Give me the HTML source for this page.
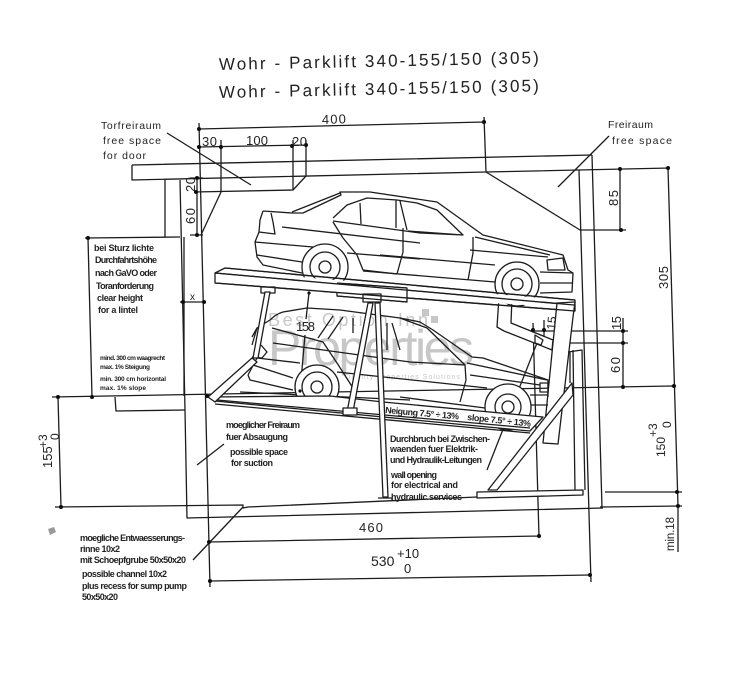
<!DOCTYPE html>
<html><head><meta charset="utf-8"><style>
html,body{margin:0;padding:0;background:#fff}
svg{display:block}
text{font-family:"Liberation Sans",sans-serif;fill:#222}
.d{stroke:#1c1c1c;stroke-width:1.3;fill:none;stroke-linejoin:round}
.f{fill:#fff}
.t{font-size:9px;font-weight:bold;fill:#222}
.n{font-size:13px;fill:#222}
.w{fill:#a9a9a9;opacity:.65}
</style></head><body>
<svg width="744" height="690" viewBox="0 0 744 690" xmlns="http://www.w3.org/2000/svg">
<filter id="b"><feGaussianBlur stdDeviation=".35"/></filter>
<rect width="744" height="690" fill="#fff"/>
<g filter="url(#b)">
<!-- titles -->
<text x="219" y="70" font-size="17" textLength="320" transform="rotate(-1.2 219 70)">Wohr - Parklift 340-155/150 (305)</text>
<text x="219" y="98" font-size="17" textLength="320" transform="rotate(-1.2 219 98)">Wohr - Parklift 340-155/150 (305)</text>

<!-- watermark -->
<text class="w" x="268" y="365" font-size="50" textLength="206">Properties</text>
<text class="w" x="268" y="326" font-size="18" textLength="160">Best Option Inn</text>
<text class="w" x="345" y="379" font-size="7" textLength="115">Quality Properties Solutions</text>
<rect class="w" x="422" y="309" width="7" height="7"/><rect class="w" x="431" y="316" width="7" height="7"/>

<g class="d">
<!-- walls -->
<path d="M132 165L592 155M132 165V180L486 172L670 168"/>
<path d="M165 180V237M180 180L185 410L187 518L603 508M85 238L180 237"/>
<path d="M88 238L92 397M184 237L184 396"/>
<path d="M52 397L673 386"/>
<path d="M115 397L116 411L185 410"/>
<path d="M199 123L210 587"/>
<path d="M579 170L591 582M592 155L602 508"/>
<path d="M486 172L580 230H626"/>
<path d="M199 129L484 122M484 117L486 172"/>
<path d="M199 147L306 145M221 140V192L201 235M293 140V190L306 176V140M194 192L293 190"/>
<path d="M190 178H203M197 178L197 235M190 235H203"/>
<path d="M180 302H206"/>
<path d="M620 169V230M668 168L678 506M678 506V552"/>
<path d="M623 318L623 387M533 331H628M535 343H628"/>
<path d="M605 492L682 492M600 507L682 506"/>
<path d="M58 397L61 507M55 507L243 505L243 508L248 507L477 497"/>
<path d="M209 542L539 536M533 323L539 537M544 320V337"/>
<path d="M210 581L590 575"/>
<!-- leaders -->
<path d="M167 133L251 185M609 136L558 187M197 465L224 444M193 560L243 507M487 470L537 343M309 293L306 319M305 335L300 392"/>

<!-- upper platform -->
<path class="f" d="M225 268L575 300L575 311L215 283V273Z"/>
<path d="M215 273L574 305"/>
<path class="f" d="M337 283L407 288V302L337 296Z"/>
<path class="f" d="M261 287H275V293H261ZM363 294H381V302H363Z"/>
<path class="f" d="M499 297H512L511 323L553 340L552 350L504 331L497 327Z"/>
<path d="M535 335L543 340L541 345L535 343Z"/>
<path class="f" d="M557 303L575 302L573 317L558 444L543 443Z"/>

<!-- lower car -->
<path d="M252 337L257 328L270 320Q276 314 283 312L307 308L340 310L400 318L420 322L433 330L472 357L483 358L548 380L548 397"/>
<path d="M257 328L252 345M261 345L267 352L262 358L252 357M248 375L250 380L293 390M248 375L257 358L300 363"/>
<path d="M272 328L323 342M273 343L410 362L465 365M253 365L293 378M323 342L337 363L353 388M337 372L487 388M470 375L540 385"/>
<path d="M318 338L333 316M328 339L343 317M353 318V333M387 323V350M392 323L400 350"/>
<path d="M427 328L465 365L466 380L460 402M467 363L547 380M400 318L427 328"/>
<path d="M400 397L485 408M240 392L410 400M540 383L548 383V392H540ZM530 395H548M530 405H548"/>
<circle cx="317" cy="387" r="22" class="f"/><circle cx="317" cy="387" r="15"/><circle cx="317" cy="387" r="6"/>
<circle cx="508" cy="407" r="23" class="f"/><circle cx="508" cy="407" r="13"/><circle cx="508" cy="407" r="6"/>

<!-- lower platform -->
<path class="f" d="M383 402L543 417L530 431L215 401L208 397L330 396Z"/>
<path d="M217 400L530 428M215 404L530 433"/>
<!-- posts -->
<path class="f" d="M265 292H270L258 358H253Z"/>
<path class="f" d="M368 303H373L353 412H347Z"/>
<path class="f" d="M375 303H380L388 497H383Z"/>
<path class="f" d="M343 408H357V415H343Z"/>
<path class="f" d="M208 397L252 358L257 362L215 402Z"/>
<path d="M378 498H392V500"/>
<!-- right frame -->
<path d="M568 352L582 350L585 490M573 350L575 490M570 352V383"/>
<path class="f" d="M572 383L573 395L497 490H488Z"/>
<path class="f" d="M477 492L583 490V495L477 498Z"/>

<!-- upper car -->
<path d="M263 211L292 213H303L341 195L340 192H370L437 202L483 235L563 255L568 270L573 273L572 292L540 293"/>
<path d="M292 212L340 193M263 211L260 220L259 232L275 234L273 222L271 213"/>
<path d="M259 232L255 242L257 257L263 265L302 273M255 242L313 247M257 255L302 262"/>
<path d="M333 218L347 205L367 198L397 200L417 203L437 210L463 235L408 231M333 221L420 233L463 235M360 203L361 224M396 200V228M400 201L407 230"/>
<path d="M282 227L420 243M333 222L343 238L357 255L363 270L397 274M347 253L420 259M403 228V252L397 274"/>
<path d="M475 237L550 255M473 237L473 253L468 280M380 255L495 265M470 250L548 257M363 271L495 282"/>
<path d="M547 260L548 270H565L563 258ZM540 272L573 273M540 283L572 283"/>
<circle cx="325" cy="267" r="23"/><circle cx="325" cy="267" r="15"/><circle cx="325" cy="267" r="6"/>
<circle cx="517" cy="284" r="22"/><circle cx="517" cy="284" r="15"/><circle cx="517" cy="284" r="6"/>
<path class="f" d="M300 277L348 281V292H300ZM494 294L541 298V306L494 303Z" stroke="none"/>
<path d="M225 268L575 300M215 283L575 311M215 273L574 305M337 283L407 288M337 296L407 302"/>
</g>
<!-- dots -->
<g fill="#111">
<circle cx="199" cy="129" r="2"/><circle cx="484" cy="122" r="2"/><circle cx="199" cy="147" r="2"/><circle cx="221" cy="147" r="2"/><circle cx="292" cy="146" r="2"/><circle cx="306" cy="145" r="2"/>
<circle cx="197" cy="178" r="2"/><circle cx="196" cy="192" r="2"/><circle cx="197" cy="235" r="2"/><circle cx="183" cy="302" r="2"/><circle cx="204" cy="302" r="2"/>
<circle cx="88" cy="238" r="2"/><circle cx="92" cy="397" r="2"/><circle cx="58" cy="397" r="2"/><circle cx="61" cy="507" r="2"/><circle cx="207" cy="396" r="2"/>
<circle cx="209" cy="542" r="2"/><circle cx="539" cy="536" r="2"/><circle cx="210" cy="581" r="2"/><circle cx="590" cy="575" r="2"/>
<circle cx="620" cy="169" r="2"/><circle cx="621" cy="230" r="2"/><circle cx="668" cy="168" r="2"/><circle cx="623" cy="331" r="2"/><circle cx="623" cy="343" r="2"/><circle cx="623" cy="387" r="2"/><circle cx="674" cy="386" r="2"/><circle cx="677" cy="492" r="2"/><circle cx="678" cy="506" r="2"/><circle cx="533" cy="330" r="2"/><circle cx="544" cy="330" r="2"/><circle cx="309" cy="293" r="1.6"/><circle cx="300" cy="391" r="1.6"/>
</g>

<!-- dim labels -->
<g class="n">
<text x="322" y="124" textLength="24" transform="rotate(-1.5 322 124)">400</text>
<text x="202" y="146" textLength="15">30</text>
<text x="246" y="145" textLength="22">100</text>
<text x="292" y="146" textLength="15">20</text>
<text transform="translate(195,192) rotate(-90)" textLength="15">20</text>
<text transform="translate(195,224) rotate(-90)" textLength="16">60</text>
<text x="190" y="300" font-size="10">x</text>
<text x="296" y="331" textLength="19">158</text>
<text transform="translate(618,206) rotate(-90)" textLength="16">85</text>
<text transform="translate(668,289) rotate(-90)" textLength="23">305</text>
<text transform="translate(621,330) rotate(-90)" textLength="14">15</text>
<text transform="translate(620,373) rotate(-90)" textLength="16">60</text>
<text transform="translate(555,330) rotate(-85)" font-size="12">15</text>
<text transform="translate(665,457) rotate(-90)" font-size="12">150</text>
<text transform="translate(657,437) rotate(-90)" font-size="12">+3</text>
<text transform="translate(671,428) rotate(-90)" font-size="12">0</text>
<text transform="translate(52,468) rotate(-90)" font-size="13">155</text>
<text transform="translate(47,448) rotate(-90)" font-size="12">+3</text>
<text transform="translate(59,440) rotate(-90)" font-size="12">0</text>
<text x="359" y="532" textLength="24">460</text>
<text x="371" y="566" font-size="14">530</text>
<text x="397" y="558" font-size="13">+10</text>
<text x="404" y="573" font-size="13">0</text>
<text transform="translate(674,551) rotate(-90)" font-size="11.5" textLength="34">min.18</text>
<text x="101" y="129" font-size="10.5" textLength="60">Torfreiraum</text>
<text x="103" y="144" font-size="10.5" textLength="58">free space</text>
<text x="103" y="159" font-size="10.5" textLength="43">for door</text>
<text x="608" y="128" font-size="10.5" textLength="45">Freiraum</text>
<text x="612" y="144" font-size="10.5" textLength="60">free space</text>
</g>
<!-- notes -->
<g class="t">
<text x="94" y="251" textLength="60">bei Sturz lichte</text>
<text x="95" y="263" textLength="62">Durchfahrtshöhe</text>
<text x="95" y="276" textLength="62">nach GaVO oder</text>
<text x="96" y="289" textLength="58">Toranforderung</text>
<text x="97" y="301" textLength="46">clear height</text>
<text x="98" y="313" textLength="40">for a lintel</text>
<text x="100" y="360" textLength="65" style="font-size:6.5px">mind. 300 cm waagrecht</text>
<text x="100" y="369" textLength="50" style="font-size:6.5px">max. 1% Steigung</text>
<text x="100" y="381" textLength="66" style="font-size:6.5px">min. 300 cm horizontal</text>
<text x="100" y="390" textLength="46" style="font-size:6.5px">max. 1% slope</text>
<text x="226" y="428" textLength="74">moeglicher Freiraum</text>
<text x="226" y="440" textLength="62">fuer Absaugung</text>
<text x="230" y="455" textLength="58">possible space</text>
<text x="231" y="466" textLength="42">for suction</text>
<text x="390" y="442" textLength="100">Durchbruch bei Zwischen-</text>
<text x="390" y="452" textLength="88">waenden fuer Elektrik-</text>
<text x="390" y="463" textLength="92">und Hydraulik-Leitungen</text>
<text x="391" y="478" textLength="46">wall opening</text>
<text x="391" y="488" textLength="67">for electrical and</text>
<text x="391" y="500" textLength="71">hydraulic services</text>
<text transform="translate(385,413) rotate(5)" textLength="74">Neigung 7.5° ÷ 13%</text>
<text transform="translate(467,420) rotate(6)" textLength="64">slope 7.5° ÷ 13%</text>
<text x="80" y="541" textLength="105">moegliche Entwaesserungs-</text>
<text x="80" y="552" textLength="40">rinne 10x2</text>
<text x="80" y="563" textLength="106">mit Schoepfgrube 50x50x20</text>
<text x="82" y="577" textLength="85">possible channel 10x2</text>
<text x="82" y="589" textLength="105">plus recess for sump pump</text>
<text x="82" y="600" textLength="36">50x50x20</text>
</g>
<path d="M48 529L54 527L56 532L50 535Z" fill="#999"/>
</g>
</svg>
</body></html>
